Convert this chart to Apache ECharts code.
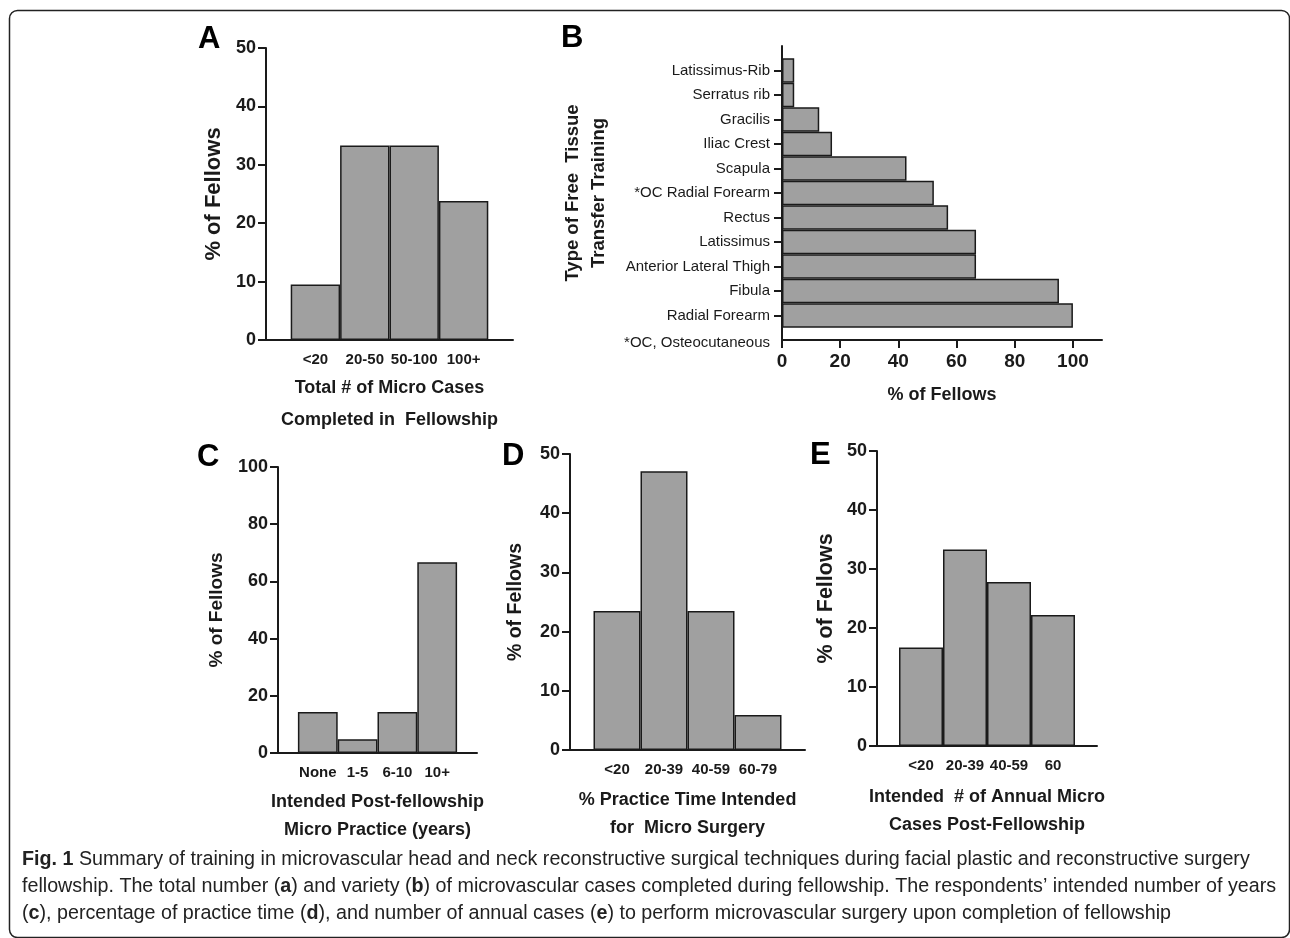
<!DOCTYPE html>
<html>
<head>
<meta charset="utf-8">
<title>Fig. 1 microvascular training</title>
<script src="https://cdn.jsdelivr.net/npm/echarts@6/dist/echarts.min.js"></script>
<style>
  html, body { margin: 0; padding: 0; background: #fff; }
  #fig { width: 1290px; height: 938px; }
</style>
</head>
<body>
<div id="fig"></div>
<script>
// A - total micro cases in fellowship
const casesCats = ['<20', '20-50', '50-100', '100+'];
const casesPct = [9.5, 33.3, 33.3, 23.8];

// B - type of free tissue transfer (top to bottom)
const flapCats = ['Latissimus-Rib', 'Serratus rib', 'Gracilis', 'Iliac Crest', 'Scapula',
  '*OC Radial Forearm', 'Rectus', 'Latissimus', 'Anterior Lateral Thigh', 'Fibula', 'Radial Forearm'];
const flapPct = [4.2, 4.2, 12.8, 17.2, 42.8, 52.2, 57.1, 66.7, 66.7, 95.2, 100];
const flapTicks = [0, 20, 40, 60, 80, 100];

// C - intended years of micro practice
const yearsCats = ['None', '1-5', '6-10', '10+'];
const yearsPct = [14.3, 4.8, 14.3, 66.7];

// D - % practice time for micro surgery
const timeCats = ['<20', '20-39', '40-59', '60-79'];
const timePct = [23.5, 47.1, 23.5, 5.9];

// E - intended annual micro cases
const annualCats = ['<20', '20-39', '40-59', '60'];
const annualPct = [16.7, 33.3, 27.8, 22.2];

const INK = '#1a1a1a';
const BAR = '#a0a0a0';
const SANS = "'Liberation Sans', Arial, sans-serif";

// half a bar of empty space each side of the bars, like the original
function pad(arr, fill) {
  return [fill].concat(arr, [fill]);
}

function catX(idx, cats, name, gap, lh) {
  return {
    type: 'category', gridIndex: idx, data: pad(cats, ''), boundaryGap: false,
    axisLine: { lineStyle: { color: INK, width: 2 } },
    axisTick: { show: false },
    axisLabel: { interval: 0, margin: 12, color: INK, fontFamily: SANS, fontWeight: 'bold', fontSize: 15 },
    name: name, nameLocation: 'middle', nameGap: gap, nameMoveOverlap: false,
    nameTextStyle: { color: INK, fontFamily: SANS, fontWeight: 'bold', fontSize: 18, lineHeight: lh }
  };
}

function valY(idx, max, step, gap, fs) {
  return {
    type: 'value', gridIndex: idx, min: 0, max: max, interval: step,
    splitLine: { show: false },
    axisLine: { show: true, lineStyle: { color: INK, width: 2 } },
    axisTick: { show: true, length: 8, lineStyle: { color: INK, width: 2 } },
    axisLabel: { margin: 10, color: INK, fontFamily: SANS, fontWeight: 'bold', fontSize: 18 },
    name: '% of Fellows', nameLocation: 'middle', nameGap: gap, nameRotate: 90, nameMoveOverlap: false,
    nameTextStyle: { color: INK, fontFamily: SANS, fontWeight: 'bold', fontSize: fs }
  };
}

function bars(idx, vals) {
  return {
    type: 'bar', xAxisIndex: idx, yAxisIndex: idx, data: pad(vals, '-'),
    barWidth: '100%',
    itemStyle: { color: BAR, borderColor: INK, borderWidth: 1.5 },
    silent: true
  };
}

function letter(t, x, y) {
  return { type: 'text', left: x, top: y, style: { text: t, fill: '#000', font: 'bold 31px ' + SANS } };
}

const caption =
  '{b|Fig. 1} Summary of training in microvascular head and neck reconstructive surgical techniques during facial plastic and reconstructive surgery\n' +
  'fellowship. The total number ({b|a}) and variety ({b|b}) of microvascular cases completed during fellowship. The respondents\u2019 intended number of years\n' +
  '({b|c}), percentage of practice time ({b|d}), and number of annual cases ({b|e}) to perform microvascular surgery upon completion of fellowship';

const chart = echarts.init(document.getElementById('fig'));
chart.setOption({
  backgroundColor: '#fff',
  animation: false,
  grid: [
    { left: 266, top: 48, width: 247, height: 292, outerBoundsMode: 'none' },
    { left: 782, top: 46, width: 320, height: 294, outerBoundsMode: 'none' },
    { left: 278, top: 467, width: 199, height: 286, outerBoundsMode: 'none' },
    { left: 570, top: 454, width: 235, height: 296, outerBoundsMode: 'none' },
    { left: 877, top: 451, width: 220, height: 295, outerBoundsMode: 'none' }
  ],
  xAxis: [
    catX(0, casesCats, 'Total # of Micro Cases\nCompleted in  Fellowship', 32, 32),
    {
      type: 'value', gridIndex: 1, min: 0, max: 110, interval: 20,
      splitLine: { show: false },
      axisLine: { show: true, lineStyle: { color: INK, width: 2 } },
      axisTick: { show: true, length: 8, customValues: flapTicks, lineStyle: { color: INK, width: 2 } },
      axisLabel: { customValues: flapTicks, margin: 12, color: INK, fontFamily: SANS, fontWeight: 'bold', fontSize: 19 },
      name: '% of Fellows', nameLocation: 'middle', nameGap: 46, nameMoveOverlap: false,
      nameTextStyle: { color: INK, fontFamily: SANS, fontWeight: 'bold', fontSize: 18 }
    },
    catX(2, yearsCats, 'Intended Post-fellowship\nMicro Practice (years)', 35, 28),
    catX(3, timeCats, '% Practice Time Intended\nfor  Micro Surgery', 36, 28),
    catX(4, annualCats, 'Intended  # of Annual Micro\nCases Post-Fellowship', 37, 28)
  ],
  yAxis: [
    valY(0, 50, 10, 41, 22),
    {
      type: 'category', gridIndex: 1, inverse: true, data: pad(flapCats, ''), boundaryGap: false,
      axisLine: { lineStyle: { color: INK, width: 2 } },
      axisTick: {
        length: 8, lineStyle: { color: INK, width: 2 },
        interval: function (i) { return i > 0 && i <= flapCats.length; }
      },
      axisLabel: { interval: 0, margin: 12, color: INK, fontFamily: SANS, fontSize: 15 },
      name: 'Type of Free  Tissue\nTransfer Training', nameLocation: 'middle', nameGap: 170, nameRotate: 90,
      nameMoveOverlap: false,
      nameTextStyle: { color: INK, fontFamily: SANS, fontWeight: 'bold', fontSize: 18.5, lineHeight: 26 }
    },
    valY(2, 100, 20, 52, 19),
    valY(3, 50, 10, 44, 19.5),
    valY(4, 50, 10, 40, 21.5)
  ],
  series: [
    bars(0, casesPct),
    {
      type: 'bar', xAxisIndex: 1, yAxisIndex: 1, data: pad(flapPct, '-'),
      barWidth: '100%',
      itemStyle: { color: BAR, borderColor: INK, borderWidth: 1.5 },
      silent: true
    },
    bars(2, yearsPct),
    bars(3, timePct),
    bars(4, annualPct)
  ],
  graphic: [
    {
      type: 'rect', shape: { x: 9.5, y: 10.5, width: 1280, height: 927, r: 8 },
      style: { fill: 'none', stroke: '#222', lineWidth: 1.5 }, silent: true
    },
    letter('A', 198, 24),
    letter('B', 561, 23),
    letter('C', 197, 442),
    letter('D', 502, 441),
    letter('E', 810, 440),
    {
      type: 'text', x: 770, y: 343,
      style: { text: '*OC, Osteocutaneous', fill: INK, font: '15px ' + SANS, align: 'right', verticalAlign: 'middle' }
    },
    {
      type: 'text', x: 22, y: 846,
      style: {
        text: caption, fill: '#222', font: '19.7px ' + SANS, lineHeight: 27,
        rich: { b: { fontWeight: 'bold', fontFamily: SANS, fontSize: 19.7 } }
      }
    }
  ]
});
</script>
</body>
</html>
